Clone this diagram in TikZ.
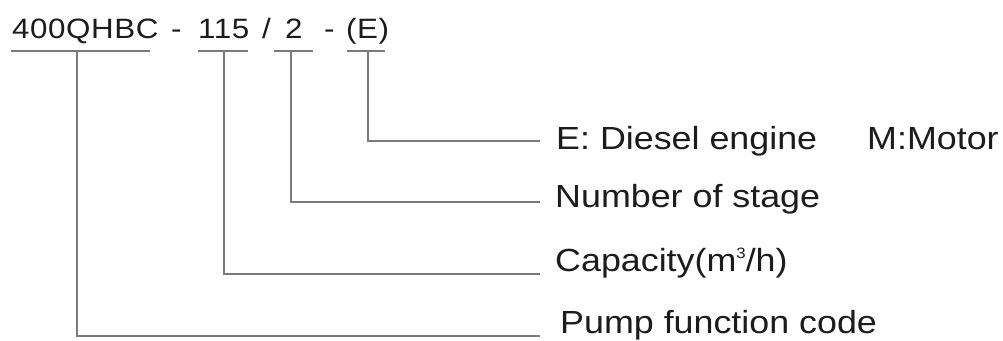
\documentclass[tikz,border=0pt]{standalone}
\usepackage{fontspec}
\setmainfont{Liberation Sans}[FakeStretch=1.12]
\definecolor{txt}{HTML}{1C1C1C}
\definecolor{lc}{HTML}{7A7A7A}
\newcommand{\smallsup}[1]{\raisebox{13pt}{\fontsize{15}{15}\selectfont #1}}
\begin{document}
\begin{tikzpicture}[x=1pt,y=-1pt,
  code/.style={anchor=base west,inner sep=0pt,font=\fontsize{28}{30}\selectfont\addfontfeatures{LetterSpace=2},text=txt},
  lab/.style={anchor=base west,inner sep=0pt,font=\fontsize{32}{36}\selectfont,text=txt},
  conn/.style={draw=lc,line width=1.4pt},
  uline/.style={draw=lc,line width=1.6pt}]
\useasboundingbox[fill=white] (0,0) rectangle (1003,340);
% code parts
\node[code] (cA) at (12,38) {400QHBC};
\node[code] (h1) at (171,38) {-};
\node[code] (cB) at (198,38) {115};
\node[code] (sl) at (262,38) {/};
\node[code] (cC) at (285,38) {2};
\node[code] (h2) at (324,38) {-};
\node[code] (cD) at (346,38) {(E)};
% underlines
\draw[uline] (11,51) -- (150,51);
\draw[uline] (198,51) -- (248,51);
\draw[uline] (274,51) -- (313,51);
\draw[uline] (347,51) -- (385,51);
% connector start points
\coordinate (uA) at (77,51);
\coordinate (uB) at (224,51);
\coordinate (uC) at (291,51);
\coordinate (uD) at (368,51);
% connector end points
\coordinate (eE) at (540,141);
\coordinate (eN) at (540,202);
\coordinate (eC) at (540,274);
\coordinate (eP) at (540,336);
% labels
\node[lab] (lE) at (556,149) {E: Diesel engine};
\node[lab] (lM) at (867,149) {M:Motor};
\node[lab] (lN) at (555,207.5) {Number of stage};
\node[lab] (lC) at (555,271) {Capacity(m\smallsup{3}/h)};
\node[lab] (lP) at (560,333) {Pump function code};
% connectors
\draw[conn] (uD) |- (eE);
\draw[conn] (uC) |- (eN);
\draw[conn] (uB) |- (eC);
\draw[conn] (uA) |- (eP);
\end{tikzpicture}
\end{document}
